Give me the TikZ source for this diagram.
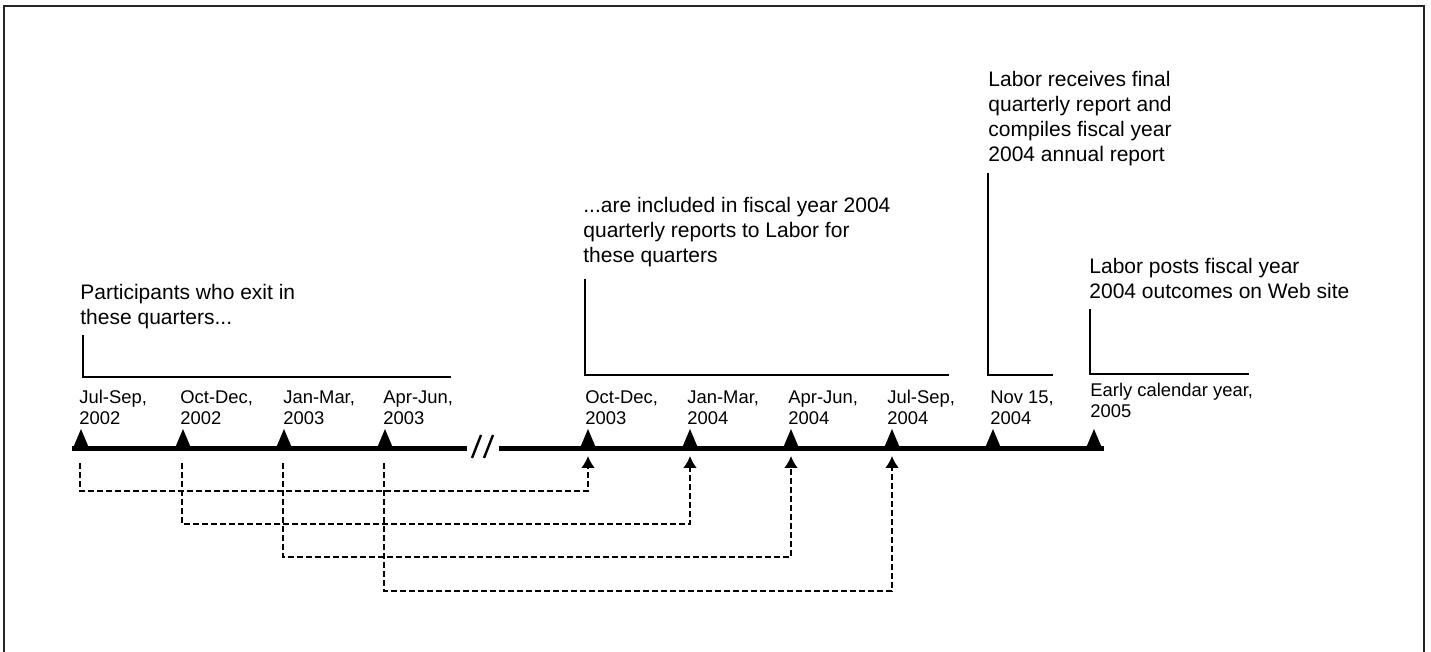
\documentclass[tikz,border=0pt]{standalone}
\usepackage{fontspec}
\setmainfont{Liberation Sans}
\usetikzlibrary{arrows.meta}
\begin{document}
\begin{tikzpicture}[x=0.5pt,y=-0.5pt,
  desc/.style={anchor=base west,inner sep=0pt,align=left,font=\fontsize{10.5}{12.5}\selectfont},
  qlabel/.style={anchor=base west,inner sep=0pt,align=left,font=\fontsize{9.2}{10.5}\selectfont},
  bracket/.style={line width=0.75pt},
  axis/.style={line width=2.5pt},
  tick/.style={fill=black},
  flow/.style={line width=1.15pt,dash pattern=on 3pt off 1.5pt,-{Latex[length=6pt,width=7pt]}},
  frame/.style={line width=1pt,draw=black!85}]
\useasboundingbox (0,0) rectangle (1431,652);
% frame (open at bottom)
\draw[frame] (4,660) -- (4,6) -- (1424,6) -- (1424,660);

% timeline points
\foreach \n/\x in {t1/81,t2/183,t3/284,t4/385,t5/588,t6/690,t7/791,t8/892,t9/993,t10/1094}{
  \coordinate (\n) at (\x,449);
  \fill[tick] (\x-8,448) -- (\x,429) -- (\x+8,448) -- cycle;
}
\coordinate (a0) at (72,449);
\coordinate (a1) at (467,449);
\coordinate (a2) at (499,449);
\coordinate (a3) at (1104,449);
\draw[axis] (a0) -- (a1);
\draw[axis] (a2) -- (a3);
% break mark
\coordinate (s1a) at (472,458); \coordinate (s1b) at (481,435);
\coordinate (s2a) at (484,458); \coordinate (s2b) at (493,435);
\draw[line width=1.2pt] (s1a) -- (s1b);
\draw[line width=1.2pt] (s2a) -- (s2b);

% quarter labels (anchor = baseline of last line)
\node[qlabel] (l1) at (79,425) {Jul-Sep,\\2002};
\node[qlabel] (l2) at (180,425) {Oct-Dec,\\2002};
\node[qlabel] (l3) at (283,425) {Jan-Mar,\\2003};
\node[qlabel] (l4) at (383,425) {Apr-Jun,\\2003};
\node[qlabel] (l5) at (585,425) {Oct-Dec,\\2003};
\node[qlabel] (l6) at (687,425) {Jan-Mar,\\2004};
\node[qlabel] (l7) at (788,425) {Apr-Jun,\\2004};
\node[qlabel] (l8) at (887,425) {Jul-Sep,\\2004};
\node[qlabel] (l9) at (990,425) {Nov 15,\\2004};
\node[qlabel] (l10) at (1090,418) {Early calendar year,\\2005};

% descriptions (anchor = baseline of last line)
\node[desc] (d1) at (80,325) {Participants who exit in\\these quarters...};
\node[desc] (d2) at (583,263) {...are included in fiscal year 2004\\quarterly reports to Labor for\\these quarters};
\node[desc] (d3) at (988,162) {Labor receives final\\quarterly report and\\compiles fiscal year\\2004 annual report};
\node[desc] (d4) at (1089,299) {Labor posts fiscal year\\2004 outcomes on Web site};

% brackets
\coordinate (b1a) at (83,335); \coordinate (b1b) at (83,377); \coordinate (b1c) at (451,377);
\coordinate (b2a) at (585,279); \coordinate (b2b) at (585,375); \coordinate (b2c) at (949,375);
\coordinate (b3a) at (988,173); \coordinate (b3b) at (988,375); \coordinate (b3c) at (1053,375);
\coordinate (b4a) at (1090,309); \coordinate (b4b) at (1090,374); \coordinate (b4c) at (1249,374);
\draw[bracket] (b1a) -- (b1b) -- (b1c);
\draw[bracket] (b2a) -- (b2b) -- (b2c);
\draw[bracket] (b3a) -- (b3b) -- (b3c);
\draw[bracket] (b4a) -- (b4b) -- (b4c);

% dashed flows
\foreach \s/\e/\xs/\xe/\yy in {1/5/80/588/491, 2/6/182/690/524, 3/7/283/791/557, 4/8/384/892/591}{
  \coordinate (fs\s) at (\xs,463);
  \coordinate (fc\s) at (\xs,\yy);
  \coordinate (fe\e) at (\xe,456);
  \draw[flow] (fs\s) -- (fc\s) -| (fe\e);
}
\end{tikzpicture}
\end{document}
